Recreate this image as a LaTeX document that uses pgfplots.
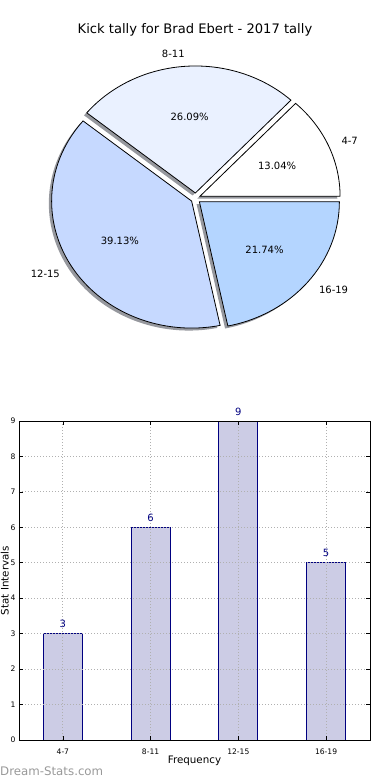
\documentclass[border=0pt]{standalone}
\usepackage{pgfplots}
\pgfplotsset{compat=1.18}
\usepackage{pgfplotstable}
\usepackage{fontspec}
\setmainfont{DejaVu Sans}
\definecolor{sliceA}{RGB}{255,255,255}
\definecolor{sliceB}{RGB}{234,241,255}
\definecolor{sliceC}{RGB}{198,217,255}
\definecolor{sliceD}{RGB}{180,213,255}
\definecolor{shadowc}{RGB}{150,152,158}
\definecolor{barfill}{RGB}{204,204,229}
\definecolor{navyc}{RGB}{0,0,128}
\definecolor{gridc}{RGB}{176,176,176}

\pgfplotstableread{
x label count
0 4-7 3
1 8-11 6
2 12-15 9
3 16-19 5
}\kicks

\begin{document}
\begin{tikzpicture}
\useasboundingbox (0,0) rectangle (390pt,780pt);
% ---------- pie ----------
\begin{axis}[at={(0pt,390pt)}, anchor=south west, scale only axis,
  width=390pt, height=390pt,
  xmin=-1.3979, xmax=1.3879, ymin=-1.5094, ymax=1.5614,
  hide axis, clip=false]
\pgfplotsextra{
 \gdef\cumul{0}
 \foreach \v/\lab/\pct/\col in {3/4-7/13.04/sliceA, 6/8-11/26.09/sliceB, 9/12-15/39.13/sliceC, 5/16-19/21.74/sliceD}{
   \pgfmathsetmacro{\s}{\cumul}
   \pgfmathsetmacro{\e}{\s+\v/23*360}
   \pgfmathsetmacro{\m}{(\s+\e)/2}
   \pgfmathsetmacro{\ox}{0.034*cos(\m)}
   \pgfmathsetmacro{\oy}{0.042*sin(\m)}
   \pgfmathsetmacro{\ax}{\ox+cos(\s)}
   \pgfmathsetmacro{\ay}{\oy+sin(\s)}
   \fill[shadowc] ([shift={(-2.8pt,-2.5pt)}]axis cs:\ox,\oy) -- ([shift={(-2.8pt,-2.5pt)}]axis cs:\ax,\ay)
      arc[start angle=\s, end angle=\e, x radius=140pt, y radius=127pt] -- cycle;
   \filldraw[fill=\col, draw=black, line width=0.8pt] (axis cs:\ox,\oy) -- (axis cs:\ax,\ay)
      arc[start angle=\s, end angle=\e, x radius=140pt, y radius=127pt] -- cycle;
   \pgfmathsetmacro{\lx}{\ox+1.1*cos(\m)}
   \pgfmathsetmacro{\ly}{\oy+1.1*sin(\m)}
   \pgfmathsetmacro{\px}{\ox+0.6*cos(\m)}
   \pgfmathsetmacro{\py}{\oy+0.6*sin(\m)}
   \pgfmathtruncatemacro{\side}{cos(\m)>0}
   \ifnum\side=1 \def\anc{west}\else\def\anc{east}\fi
   \node[anchor=\anc, inner sep=0pt, font=\fontsize{10}{12}\selectfont] at (axis cs:\lx,\ly) {\lab};
   \node[inner sep=0pt, font=\fontsize{10}{12}\selectfont] at (axis cs:\px,\py) {\pct\%};
   \xdef\cumul{\e}
 }
}
\end{axis}
\node[anchor=base, font=\fontsize{13.1}{15}\selectfont] at (195pt,746.7pt) {Kick tally for Brad Ebert - 2017 tally};
% ---------- bars ----------
\begin{axis}[at={(19pt,40pt)}, anchor=south west, scale only axis,
  width=351pt, height=319pt,
  xmin=-0.5, xmax=3.5, ymin=0, ymax=9,
  xtick={0,1,2,3}, xticklabels={4-7,8-11,12-15,16-19},
  ytick={0,1,...,9},
  tick align=inside, major tick length=4pt,
  every tick/.style={black, line width=0.6pt},
  xmajorgrids, ymajorgrids,
  grid style={gridc, line width=0.8pt, dash pattern=on 1pt off 2pt},
  axis on top,
  axis line style={line width=0.9pt},
  ticklabel style={font=\fontsize{7.6}{9}\selectfont},
  /pgf/number format/assume math mode=true,
  xticklabel style={yshift=-5pt},
  xlabel={Frequency}, ylabel={Stat Intervals},
  label style={font=\fontsize{10.3}{12}\selectfont},
  xlabel style={at={(axis description cs:0.5,-0.0752)}, anchor=base},
  ylabel style={at={(axis description cs:-0.0299,0.5)}, anchor=base},
]
\addplot[ybar, bar width=39pt, fill=barfill, draw=navyc, line width=0.8pt,
  nodes near coords,
  every node near coord/.append style={text=navyc, font=\fontsize{10}{12}\selectfont, anchor=base, yshift=6pt}]
  table[x=x, y=count] {\kicks};
\end{axis}
\node[anchor=base west, text=black!40, font=\fontsize{11.8}{14}\selectfont, inner sep=0pt] at (0pt,5pt) {Dream-Stats.com};
\end{tikzpicture}
\end{document}
